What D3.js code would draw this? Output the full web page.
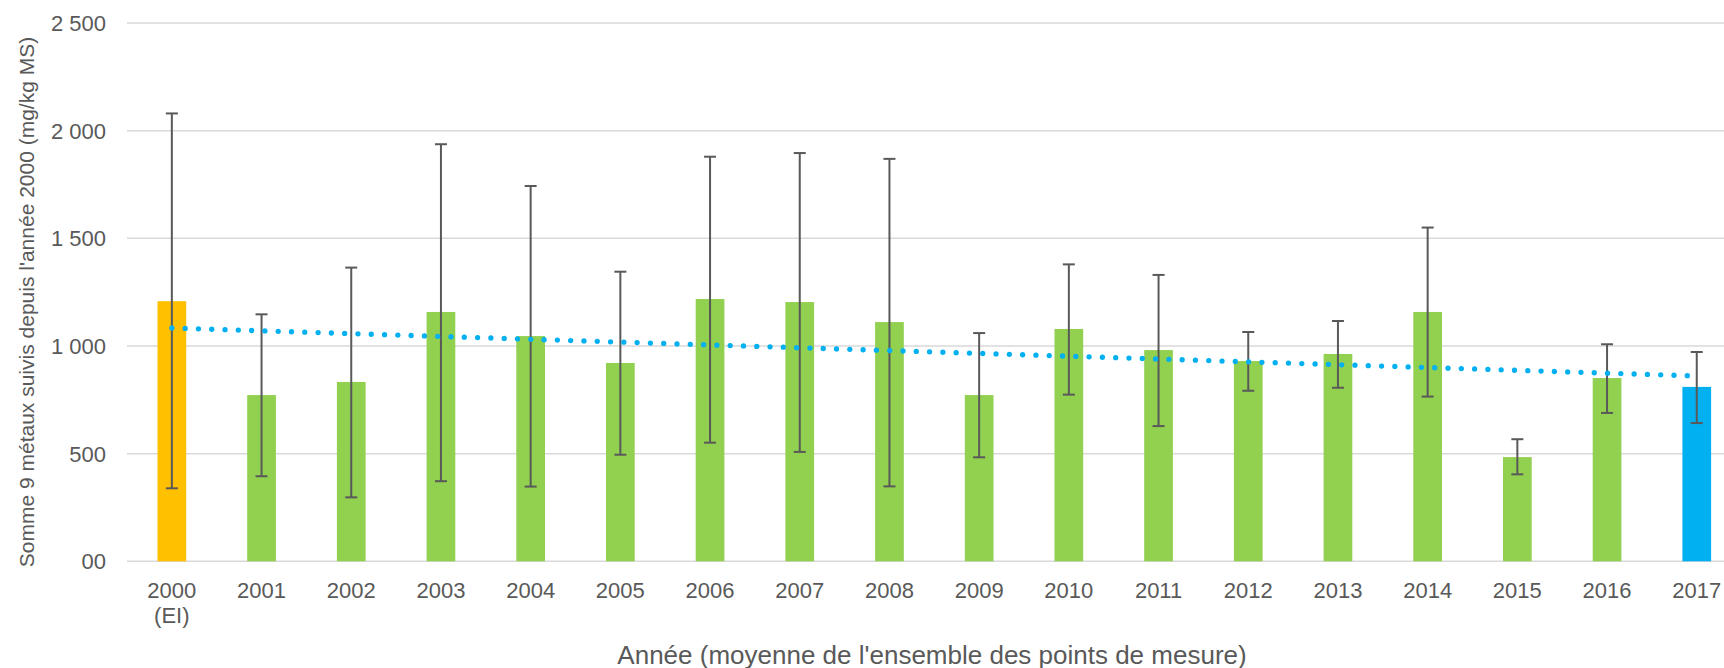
<!DOCTYPE html>
<html>
<head>
<meta charset="utf-8">
<script src="https://cdn.jsdelivr.net/npm/d3@7"></script>
<style>
    body { margin: 0; background: #fff; }
    text { font-family: "Liberation Sans", Arial, sans-serif; fill: #595959; }
</style>
</head>
<body>
<div id="Chart"></div>
<script>
// years on the x axis (2000 = etat initial)
var years = ["2000", "2001", "2002", "2003", "2004", "2005", "2006", "2007", "2008",
             "2009", "2010", "2011", "2012", "2013", "2014", "2015", "2016", "2017"];
var yearLabels = [["2000", "(EI)"], ["2001"], ["2002"], ["2003"], ["2004"], ["2005"], ["2006"],
                  ["2007"], ["2008"], ["2009"], ["2010"], ["2011"], ["2012"], ["2013"],
                  ["2014"], ["2015"], ["2016"], ["2017"]];

// mean sum of the 9 metals (mg/kg MS)
var means = [1208, 772, 833, 1158, 1046, 921, 1218, 1204, 1111, 772, 1079, 981, 930, 963, 1158, 484, 851, 810];
// error bar ends
var errHigh = [2080, 1147, 1364, 1937, 1743, 1345, 1879, 1896, 1869, 1060, 1379, 1330, 1065, 1116, 1550, 567, 1008, 972];
var errLow = [339, 395, 297, 372, 347, 495, 551, 508, 348, 483, 774, 628, 792, 806, 765, 404, 689, 642];

var yTicks = [0, 500, 1000, 1500, 2000, 2500];
var yTickLabels = ["00", "500", "1 000", "1 500", "2 000", "2 500"];

function init() {
    var w = 1724;
    var h = 668;

    var svg = d3.select("#Chart")
                .append("svg")
                .attr("width", w)
                .attr("height", h);

    var x = d3.scaleBand()
              .domain(years)
              .range([127, 127 + 18 * 89.7]);

    var y = d3.scaleLinear()
              .domain([0, 2500])
              .range([561.3, 23]);

    var barW = x.step() * 0.32;

    // gridlines
    svg.selectAll("line.grid")
        .data(yTicks)
        .enter()
        .append("line")
        .attr("class", "grid")
        .attr("x1", 127)
        .attr("x2", w)
        .attr("y1", function(d) { return y(d); })
        .attr("y2", function(d) { return y(d); })
        .attr("stroke", "#D9D9D9")
        .attr("stroke-width", 1.5);

    // y labels
    svg.selectAll("text.ytick")
        .data(yTicks)
        .enter()
        .append("text")
        .attr("class", "ytick")
        .attr("x", 106)
        .attr("y", function(d) { return y(d); })
        .attr("dy", "0.36em")
        .attr("text-anchor", "end")
        .style("font-size", "22px")
        .text(function(d, i) { return yTickLabels[i]; });

    // bars
    svg.selectAll("rect.bar")
        .data(means)
        .enter()
        .append("rect")
        .attr("class", "bar")
        .attr("x", function(d, i) { return x(years[i]) + x.bandwidth() / 2 - barW / 2; })
        .attr("y", function(d) { return y(d); })
        .attr("width", barW)
        .attr("height", function(d) { return y(0) - y(d); })
        .attr("fill", function(d, i) {
            if (i == 0) return "#FFC000";
            if (i == years.length - 1) return "#00B0F0";
            return "#92D050";
        });

    // error bars
    var err = svg.selectAll("g.err")
                .data(years)
                .enter()
                .append("g")
                .attr("class", "err")
                .attr("stroke", "#595959")
                .attr("stroke-width", 2);

    function cx(d) { return x(d) + x.bandwidth() / 2; }

    err.append("line")
        .attr("x1", cx)
        .attr("x2", cx)
        .attr("y1", function(d, i) { return y(errLow[i]); })
        .attr("y2", function(d, i) { return y(errHigh[i]); });
    err.append("line")
        .attr("x1", function(d) { return cx(d) - 6; })
        .attr("x2", function(d) { return cx(d) + 6; })
        .attr("y1", function(d, i) { return y(errHigh[i]); })
        .attr("y2", function(d, i) { return y(errHigh[i]); });
    err.append("line")
        .attr("x1", function(d) { return cx(d) - 6; })
        .attr("x2", function(d) { return cx(d) + 6; })
        .attr("y1", function(d, i) { return y(errLow[i]); })
        .attr("y2", function(d, i) { return y(errLow[i]); });

    // linear trendline (least squares on the means)
    var n = means.length;
    var mx = d3.mean(means, function(d, i) { return i; });
    var my = d3.mean(means);
    var sxy = d3.sum(means, function(d, i) { return (i - mx) * (d - my); });
    var sxx = d3.sum(means, function(d, i) { return (i - mx) * (i - mx); });
    var slope = sxy / sxx;
    var icpt = my - slope * mx;

    svg.append("line")
        .attr("x1", cx(years[0]))
        .attr("x2", cx(years[n - 1]))
        .attr("y1", y(icpt))
        .attr("y2", y(icpt + slope * (n - 1)))
        .attr("stroke", "#00B0F0")
        .attr("stroke-width", 5.3)
        .attr("stroke-linecap", "round")
        .attr("stroke-dasharray", "0 13.3");

    // x labels
    var xl = svg.selectAll("text.xtick")
                .data(yearLabels)
                .enter()
                .append("text")
                .attr("class", "xtick")
                .attr("text-anchor", "middle")
                .style("font-size", "22px");
    xl.selectAll("tspan")
        .data(function(d, i) { return d.map(function(t) { return { t: t, i: i }; }); })
        .enter()
        .append("tspan")
        .attr("x", function(d) { return cx(years[d.i]); })
        .attr("y", function(d, j) { return 598 + j * 25; })
        .text(function(d) { return d.t; });

    // axis titles
    svg.append("text")
        .attr("x", 932)
        .attr("y", 663.5)
        .attr("text-anchor", "middle")
        .style("font-size", "26px")
        .text("Année (moyenne de l'ensemble des points de mesure)");

    svg.append("text")
        .attr("transform", "translate(34,302) rotate(-90)")
        .attr("text-anchor", "middle")
        .style("font-size", "21px")
        .text("Somme 9 métaux suivis depuis l'année 2000 (mg/kg MS)");
}
window.onload = init;
</script>
</body>
</html>
